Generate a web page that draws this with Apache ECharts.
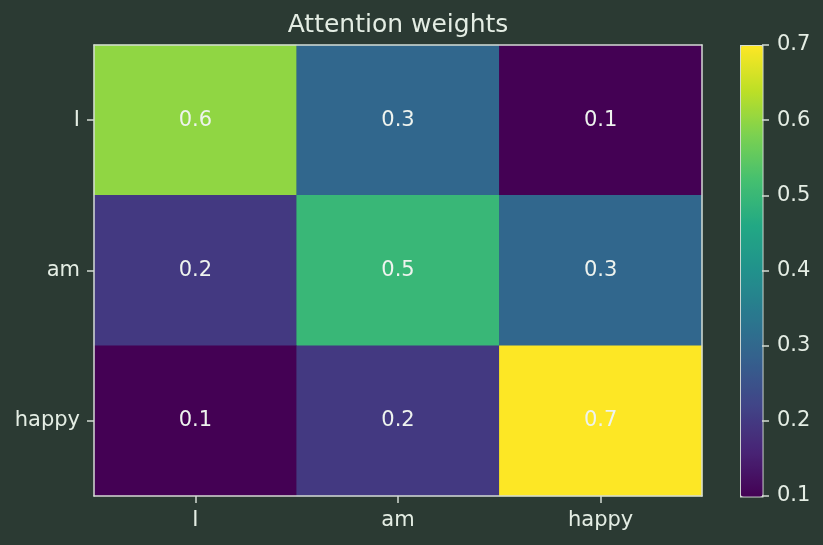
<!DOCTYPE html>
<html>
<head>
<meta charset="utf-8">
<script src="https://cdn.jsdelivr.net/npm/echarts@6/dist/echarts.min.js"></script>
<style>
  html, body { margin: 0; padding: 0; background: #2b3a33; }
  #chart { width: 823px; height: 545px; }
</style>
</head>
<body>
<div id="chart"></div>
<script>
// data
var xTokens = ['I', 'am', 'happy'];
var yTokens = ['I', 'am', 'happy'];
var rowI = [0.6, 0.3, 0.1];
var rowAm = [0.2, 0.5, 0.3];
var rowHappy = [0.1, 0.2, 0.7];
var barTicks = [0.1, 0.2, 0.3, 0.4, 0.5, 0.6, 0.7];

var viridis = ['#440154', '#482475', '#414487', '#355f8d', '#2a788e', '#21918c',
               '#22a884', '#44bf70', '#7ad151', '#bddf26', '#fde725'];

var txt = '#e4ede4';
var spine = '#d4dcd4';
var font = 'DejaVu Sans';

var rows = [rowI, rowAm, rowHappy];
var cells = [];
for (var r = 0; r < rows.length; r++) {
  for (var c = 0; c < rows[r].length; c++) {
    cells.push([c, r, rows[r][c]]);
  }
}

var chart = echarts.init(document.getElementById('chart'));

// axis with only a line (frame sides)
function frameAxis(pos, grid) {
  return {
    type: 'value', position: pos, gridIndex: grid, min: 0, max: 1, z: 10,
    axisLine: { show: true, onZero: false, lineStyle: { color: spine, width: 1.5 } },
    axisTick: { show: false }, axisLabel: { show: false }, splitLine: { show: false }
  };
}

var option = {
  backgroundColor: '#2b3a33',
  animation: false,
  title: {
    text: 'Attention weights',
    left: 393, top: 8, textAlign: 'center',
    textStyle: { color: txt, fontFamily: font, fontSize: 25, fontWeight: 'normal' }
  },
  grid: [
    { left: 94, top: 45, width: 608, height: 451 },
    { left: 740, top: 45, width: 22, height: 451 }
  ],
  xAxis: [
    {
      type: 'category', data: xTokens, gridIndex: 0, position: 'bottom', z: 10,
      axisLine: { show: true, lineStyle: { color: spine, width: 1.5 } },
      axisTick: { show: true, alignWithLabel: true, length: 7, lineStyle: { color: spine, width: 1.5 } },
      axisLabel: { color: txt, fontFamily: font, fontSize: 21, margin: 14 },
      splitLine: { show: false }
    },
    frameAxis('top', 0),
    { type: 'value', gridIndex: 1, show: false, min: 0, max: 1 }
  ],
  yAxis: [
    {
      type: 'category', data: yTokens, gridIndex: 0, inverse: true, position: 'left', z: 10,
      axisLine: { show: true, lineStyle: { color: spine, width: 1.5 } },
      axisTick: { show: true, alignWithLabel: true, length: 7, lineStyle: { color: spine, width: 1.5 } },
      axisLabel: { color: txt, fontFamily: font, fontSize: 21, margin: 14 },
      splitLine: { show: false }
    },
    frameAxis('right', 0),
    {
      // colorbar scale
      type: 'value', gridIndex: 1, position: 'right', min: 0.1, max: 0.7, interval: 0.1, z: 10,
      axisLine: { show: false, onZero: false },
      axisTick: { show: true, length: 7, lineStyle: { color: spine, width: 1.5 } },
      axisLabel: {
        color: txt, fontFamily: font, fontSize: 21, margin: 15,
        formatter: function (v) { return v.toFixed(1); }
      },
      splitLine: { show: false }
    }
  ],
  visualMap: {
    type: 'continuous',
    min: barTicks[0], max: barTicks[barTicks.length - 1],
    seriesIndex: 0,
    calculable: false,
    hoverLink: false,
    orient: 'vertical',
    left: 740, top: 45,
    itemWidth: 22, itemHeight: 451,
    padding: 0,
    borderColor: spine,
    borderWidth: 1.5,
    text: null,
    showLabel: false,
    inRange: { color: viridis }
  },
  series: [{
    type: 'heatmap',
    xAxisIndex: 0, yAxisIndex: 0,
    data: cells,
    label: {
      show: true, color: '#eef3ee', fontFamily: font, fontSize: 21,
      formatter: function (p) { return p.value[2].toFixed(1); }
    },
    emphasis: { disabled: true }
  }]
};

chart.setOption(option);
</script>
</body>
</html>
